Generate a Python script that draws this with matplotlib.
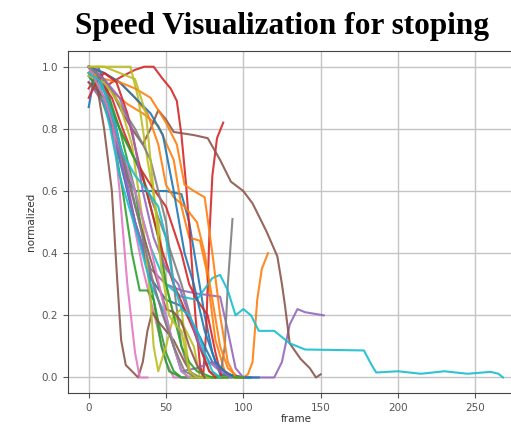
import matplotlib
matplotlib.use("Agg")
import matplotlib.pyplot as plt

# each track: frames and normalized speed
f01 = [0, 3, 6, 12, 18, 24, 30, 40, 50, 60, 65, 70, 75, 80, 85, 95, 100]
v01 = [0.87, 0.95, 1.0, 0.93, 0.8, 0.65, 0.6, 0.6, 0.6, 0.59, 0.5, 0.35, 0.2, 0.08, 0.01, 0.0, 0.0]
f02 = [0, 8, 15, 25, 35, 45, 55, 60, 65, 72, 76, 82, 88, 95, 100, 103, 106, 109, 112, 116]
v02 = [1.0, 0.97, 0.92, 0.88, 0.85, 0.81, 0.7, 0.55, 0.45, 0.44, 0.35, 0.12, 0.02, 0.0, 0.0, 0.01, 0.05, 0.25, 0.35, 0.4]
f03 = [0, 10, 20, 30, 35, 40, 45, 50, 55, 60, 80, 90, 100]
v03 = [1.0, 0.95, 0.8, 0.6, 0.45, 0.3, 0.18, 0.08, 0.02, 0.0, 0.0, 0.01, 0.0]
f04 = [0, 5, 10, 15, 22, 30, 36, 42, 48, 53, 57, 60, 63, 66, 69, 72, 74, 76, 78, 80, 83, 87]
v04 = [0.93, 0.97, 0.93, 0.95, 0.97, 0.99, 1.0, 1.0, 0.96, 0.93, 0.89, 0.78, 0.62, 0.42, 0.2, 0.04, 0.0, 0.15, 0.45, 0.65, 0.77, 0.82]
f05 = [0, 10, 20, 30, 40, 50, 60, 70, 85, 90, 95, 100, 120, 125, 130, 135, 140, 152]
v05 = [1.0, 0.95, 0.75, 0.5, 0.35, 0.3, 0.28, 0.27, 0.26, 0.15, 0.03, 0.0, 0.0, 0.05, 0.17, 0.22, 0.21, 0.2]
f06 = [0, 8, 15, 22, 28, 35, 40, 45, 50, 55, 68, 77, 85, 92, 100, 106, 115, 122, 125, 127, 130, 137, 143, 147, 150]
v06 = [1.0, 0.97, 0.92, 0.85, 0.8, 0.75, 0.8, 0.86, 0.83, 0.79, 0.78, 0.77, 0.7, 0.63, 0.6, 0.56, 0.47, 0.39, 0.3, 0.23, 0.11, 0.06, 0.03, 0.0, 0.01]
f07 = [0, 5, 15, 25, 35, 45, 50, 55, 70]
v07 = [0.98, 1.0, 0.85, 0.6, 0.35, 0.15, 0.05, 0.0, 0.0]
f08 = [0, 10, 20, 30, 40, 50, 60, 70, 78, 85, 88, 90, 93]
v08 = [1.0, 0.93, 0.8, 0.7, 0.58, 0.45, 0.3, 0.12, 0.02, 0.0, 0.1, 0.3, 0.51]
f09 = [0, 10, 20, 27, 32, 38, 45, 50, 55, 62, 68, 72, 80]
v09 = [1.0, 1.0, 1.0, 1.0, 0.9, 0.7, 0.5, 0.3, 0.2, 0.16, 0.1, 0.0, 0.0]
f10 = [0, 10, 20, 30, 40, 50, 60, 70, 80, 85, 90, 95, 100, 105, 110, 120, 130, 140, 178, 183, 186, 200, 215, 230, 245, 260, 265, 268]
v10 = [1.0, 0.9, 0.75, 0.6, 0.42, 0.3, 0.26, 0.25, 0.32, 0.33, 0.28, 0.2, 0.22, 0.2, 0.15, 0.15, 0.11, 0.09, 0.087, 0.04, 0.016, 0.02, 0.012, 0.02, 0.012, 0.018, 0.012, 0.0]
f11 = [0, 10, 20, 30, 40, 50, 60, 70, 80, 90, 100, 105]
v11 = [0.97, 0.9, 0.7, 0.5, 0.32, 0.25, 0.23, 0.15, 0.05, 0.01, 0.0, 0.0]
f12 = [0, 10, 20, 30, 38, 45, 50, 55, 62, 70, 75, 80, 85, 90, 97]
v12 = [1.0, 0.98, 0.95, 0.9, 0.85, 0.75, 0.62, 0.58, 0.55, 0.5, 0.4, 0.25, 0.1, 0.03, 0.0]
f13 = [0, 8, 15, 22, 28, 33, 38, 42, 47, 52, 60, 90]
v13 = [0.98, 0.9, 0.8, 0.6, 0.4, 0.28, 0.28, 0.25, 0.1, 0.02, 0.0, 0.0]
f14 = [0, 8, 15, 22, 30, 40, 50, 60, 65, 70, 77, 82, 86]
v14 = [1.0, 0.95, 0.9, 0.8, 0.7, 0.62, 0.55, 0.4, 0.3, 0.25, 0.2, 0.08, 0.0]
f15 = [0, 10, 20, 30, 40, 45, 55, 60, 70, 80, 88, 95]
v15 = [0.95, 0.88, 0.72, 0.5, 0.33, 0.25, 0.1, 0.02, 0.03, 0.05, 0.02, 0.0]
f16 = [0, 5, 10, 15, 18, 21, 24, 28, 32, 35, 38, 41, 45, 50, 55, 62, 68]
v16 = [1.0, 0.95, 0.8, 0.6, 0.35, 0.12, 0.04, 0.02, 0.0, 0.05, 0.15, 0.21, 0.18, 0.15, 0.12, 0.05, 0.0]
f17 = [0, 8, 15, 20, 25, 30, 33, 38]
v17 = [1.0, 0.95, 0.85, 0.6, 0.3, 0.08, 0.0, 0.0]
f18 = [0, 10, 20, 30, 40, 50, 55, 60, 65, 72]
v18 = [1.0, 0.96, 0.88, 0.8, 0.7, 0.5, 0.3, 0.1, 0.02, 0.0]
f19 = [0, 10, 20, 28, 35, 40, 42, 45, 50, 55, 60, 63, 66, 90]
v19 = [0.97, 0.95, 0.88, 0.75, 0.5, 0.25, 0.1, 0.02, 0.1, 0.2, 0.22, 0.1, 0.0, 0.0]
f20 = [0, 8, 14, 20, 26, 32, 40, 45, 50, 55, 60, 65]
v20 = [1.0, 0.93, 0.8, 0.65, 0.55, 0.45, 0.3, 0.25, 0.2, 0.1, 0.02, 0.0]
f21 = [0, 10, 20, 30, 40, 48, 55, 62, 68, 75, 82, 90, 100, 110]
v21 = [1.0, 0.98, 0.95, 0.9, 0.85, 0.78, 0.6, 0.4, 0.3, 0.15, 0.05, 0.01, 0.0, 0.0]
f22 = [0, 10, 20, 30, 40, 50, 57, 62, 68, 75, 80, 85, 90, 95, 100]
v22 = [0.98, 0.96, 0.95, 0.93, 0.9, 0.82, 0.75, 0.62, 0.6, 0.58, 0.4, 0.2, 0.05, 0.0, 0.0]
f23 = [0, 5, 12, 20, 28, 35, 45, 50, 55, 60, 65, 70, 80, 100]
v23 = [1.0, 0.98, 0.9, 0.8, 0.72, 0.65, 0.45, 0.3, 0.2, 0.1, 0.05, 0.02, 0.0, 0.0]
f24 = [0, 5, 10, 18, 25, 32, 40, 48, 55, 62, 68, 72, 78, 82]
v24 = [0.9, 0.95, 0.98, 0.95, 0.85, 0.7, 0.55, 0.4, 0.3, 0.22, 0.15, 0.1, 0.02, 0.0]
f25 = [0, 10, 20, 28, 35, 42, 50, 58, 65, 72, 78, 85, 92]
v25 = [1.0, 0.96, 0.9, 0.8, 0.6, 0.45, 0.35, 0.3, 0.2, 0.1, 0.05, 0.02, 0.0]
f26 = [0, 10, 20, 30, 40, 50, 55, 60, 65, 70, 75]
v26 = [0.95, 0.9, 0.75, 0.55, 0.38, 0.22, 0.21, 0.18, 0.1, 0.04, 0.0]
f27 = [0, 10, 20, 30, 40, 50, 55, 60, 65]
v27 = [1.0, 0.9, 0.75, 0.6, 0.42, 0.2, 0.1, 0.02, 0.0]
f28 = [0, 5, 12, 20, 28, 35, 42, 48, 55, 62, 70]
v28 = [1.0, 0.98, 0.9, 0.75, 0.6, 0.45, 0.3, 0.2, 0.1, 0.02, 0.0]
f29 = [0, 10, 20, 30, 37, 42, 47, 52, 56, 60, 65, 70]
v29 = [1.0, 1.0, 0.98, 0.96, 0.85, 0.6, 0.35, 0.2, 0.17, 0.15, 0.02, 0.0]
f30 = [0, 8, 15, 22, 30, 38, 45, 50, 55, 60, 65, 70, 75, 80, 85]
v30 = [0.98, 0.95, 0.85, 0.72, 0.65, 0.6, 0.55, 0.45, 0.3, 0.22, 0.2, 0.15, 0.08, 0.02, 0.0]

tracks = [(f01, v01), (f02, v02), (f03, v03), (f04, v04), (f05, v05),
          (f06, v06), (f07, v07), (f08, v08), (f09, v09), (f10, v10),
          (f11, v11), (f12, v12), (f13, v13), (f14, v14), (f15, v15),
          (f16, v16), (f17, v17), (f18, v18), (f19, v19), (f20, v20),
          (f21, v21), (f22, v22), (f23, v23), (f24, v24), (f25, v25),
          (f26, v26), (f27, v27), (f28, v28), (f29, v29), (f30, v30)]

fig = plt.figure(figsize=(5.11, 4.30), dpi=100)
ax = fig.add_axes([0.133, 0.086, 0.892, 0.795])

for fr, sp in tracks:
    ax.plot(fr, sp, linewidth=1.5, alpha=0.9)

ax.set_xlim(-13.4, 281.4)
ax.set_ylim(-0.05, 1.05)
ax.set_xticks([0, 50, 100, 150, 200, 250])
ax.set_yticks([0.0, 0.2, 0.4, 0.6, 0.8, 1.0])
ax.grid(True, color='#c4c4c4', linewidth=1.0)
ax.tick_params(labelsize=7.5, labelcolor='#555555', color='#555555')
for s in ax.spines.values():
    s.set_color('#444444')
ax.set_xlabel('frame', fontsize=7.5, labelpad=1, color='#333333')
ax.set_ylabel('normalized', fontsize=7.5, color='#333333')

fig.text(0.552, 0.938, 'Speed Visualization for stoping', ha='center', va='center',
         family='Liberation Serif', fontweight='bold', fontsize=22.5)

fig.savefig('out.png', dpi=100)
